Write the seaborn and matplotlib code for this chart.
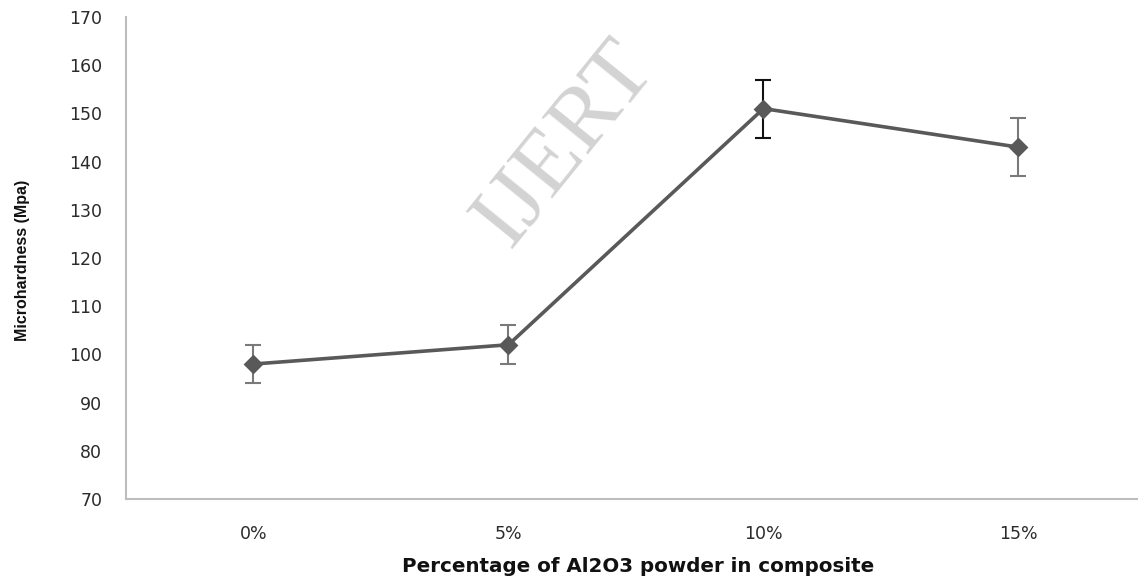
import pandas as pd
import matplotlib.pyplot as plt
import seaborn as sns

# values
categories = ['0%', '5%', '10%', '15%']
hardness = [98, 102, 151, 143]
errors = [4, 4, 6, 6]
y_ticks = [70, 80, 90, 100, 110, 120, 130, 140, 150, 160, 170]

data = pd.DataFrame({'percent': categories, 'hardness': hardness})

sns.set_style('white')
plt.rcParams['font.family'] = ['DejaVu Sans']

fig = plt.figure(figsize=(11.38, 5.79), dpi=100)
ax = fig.add_axes([0.1107, 0.1382, 0.8963, 0.8324])

# watermark
fig.text(0.497, 0.752, 'IJERT', rotation=51, fontsize=66, color='#d3d3d3',
         family=['Liberation Serif', 'DejaVu Serif'], ha='center', va='center', zorder=0)
ax.patch.set_alpha(0)

sns.pointplot(x='percent', y='hardness', data=data, order=categories, ax=ax,
              color='#595959', markers='D', errorbar=None, markersize=8,
              linewidth=2.6, zorder=3)

err_colors = ['#7a7a7a', '#7a7a7a', '#111111', '#7a7a7a']
for i, (v, e) in enumerate(zip(hardness, errors)):
    ax.errorbar(i, v, yerr=e, fmt='none', ecolor=err_colors[i], elinewidth=1.5,
                capsize=6, capthick=1.5, zorder=2)

ax.set_xlim(-0.5, 3.5)
ax.set_ylim(70, 170)
ax.set_yticks(y_ticks)
ax.set_xticks(range(len(categories)))
ax.set_xticklabels(categories)

for s in ['top', 'right']:
    ax.spines[s].set_visible(False)
for s in ['left', 'bottom']:
    ax.spines[s].set_color('#bdbdbd')
    ax.spines[s].set_linewidth(1.5)

ax.tick_params(axis='y', length=0, pad=17, labelsize=12.5, labelcolor='#2b2b2b')
ax.tick_params(axis='x', length=0, pad=19, labelsize=12.5, labelcolor='#2b2b2b')

ax.set_xlabel('')
ax.set_ylabel('')
fig.text(638 / 1138, 1 - 566 / 579, 'Percentage of Al2O3 powder in composite',
         ha='center', va='center', fontsize=14.3, fontweight='bold', color='#111111')
fig.text(23 / 1138, 1 - 260 / 579, 'Microhardness (Mpa)', rotation=90, ha='center',
         va='center', fontsize=11.5, fontweight='bold', color='#111111',
         family=['Liberation Sans', 'DejaVu Sans'])

fig.savefig('out.png', dpi=100)
